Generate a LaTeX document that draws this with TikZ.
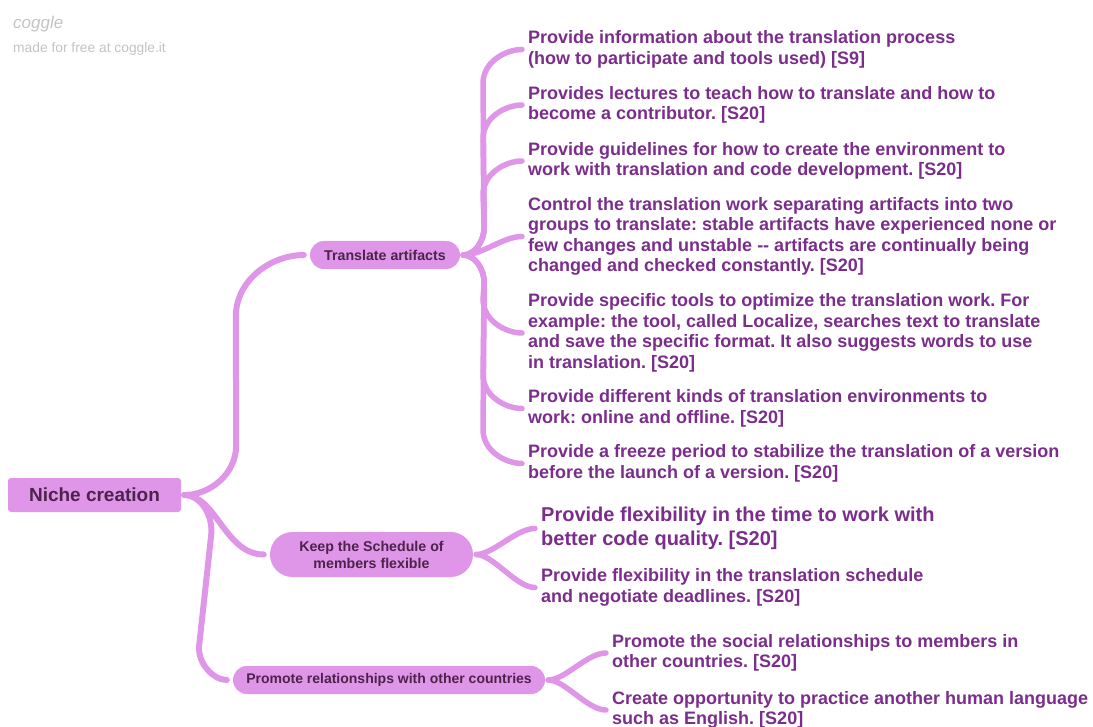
\documentclass[tikz,border=0pt]{standalone}
\usepackage{fontspec}
\setmainfont{Liberation Sans}
\usepackage{tikz}
\usetikzlibrary{positioning}
\definecolor{orchid}{RGB}{224,150,232}
\definecolor{leaftext}{RGB}{123,45,140}
\definecolor{nodetext}{RGB}{75,35,75}
\definecolor{logogray}{RGB}{195,195,195}
\tikzset{
  leaf/.style={font=\fontsize{18}{20.5}\selectfont\bfseries\frenchspacing, text=leaftext, align=left, inner sep=0pt, yshift=-2.5pt},
  pill/.style={fill=orchid, text=nodetext, font=\fontsize{14.2}{17}\selectfont\bfseries, align=center, inner sep=0pt},
  branch/.style={draw=orchid, line width=5.5pt, line cap=round, shorten <=3pt, shorten >=6pt}
}

\begin{document}
\begin{tikzpicture}
      \useasboundingbox (0,0) rectangle (1093pt,-727pt);
      \node[anchor=west, inner sep=0pt, text=logogray, font=\fontsize{17}{20}\selectfont\itshape] (Logo) at (13pt,-24pt) {coggle};
      \node[anchor=west, inner sep=0pt, text=logogray, font=\fontsize{13.8}{16}\selectfont] (Credit) at (13pt,-49pt) {made for free at coggle.it};

      \node[fill=orchid, text=nodetext, rounded corners=3pt, minimum width=173pt, minimum height=34pt, font=\fontsize{19}{22}\selectfont\bfseries] (Root) at (94.5pt,-495pt) {Niche creation};
      \node[pill, on grid, above right=240pt and 290.5pt of Root, minimum width=150pt, minimum height=28pt, rounded corners=13.9pt] (Translate) {Translate artifacts};
      \node[pill, on grid, below right=59.5pt and 277pt of Root, minimum width=203pt, minimum height=45pt, rounded corners=22.4pt] (Schedule) {Keep the Schedule of\\members flexible};
      \node[pill, on grid, below right=185pt and 294.5pt of Root, minimum width=312pt, minimum height=28pt, rounded corners=13.9pt, font=\fontsize{14}{17}\selectfont\bfseries] (Promote) {Promote relationships with other countries};

      \node[leaf, on grid, above right=208pt and 143pt of Translate, anchor=west] (T1) {Provide information about the translation process\\(how to participate and tools used) [S9]};
      \node[leaf, on grid, above right=152.5pt and 143pt of Translate, anchor=west] (T2) {Provides lectures to teach how to translate and how to\\become a contributor. [S20]};
      \node[leaf, on grid, above right=96.5pt and 143pt of Translate, anchor=west] (T3) {Provide guidelines for how to create the environment to\\work with translation and code development. [S20]};
      \node[leaf, on grid, above right=21pt and 143pt of Translate, anchor=west] (T4) {Control the translation work separating artifacts into two\\groups to translate: stable artifacts have experienced none or\\few changes and unstable -{}- artifacts are continually being\\changed and checked constantly. [S20]};
      \node[leaf, on grid, below right=75.5pt and 143pt of Translate, anchor=west] (T5) {Provide specific tools to optimize the translation work. For\\example: the tool, called Localize, searches text to translate\\and save the specific format. It also suggests words to use\\in translation. [S20]};
      \node[leaf, on grid, below right=151pt and 143pt of Translate, anchor=west] (T6) {Provide different kinds of translation environments to\\work: online and offline. [S20]};
      \node[leaf, on grid, below right=206pt and 143pt of Translate, anchor=west] (T7) {Provide a freeze period to stabilize the translation of a version\\before the launch of a version. [S20]};

      \node[leaf, on grid, above right=28.5pt and 169.5pt of Schedule, anchor=west, font=\fontsize{20}{24}\selectfont\bfseries\frenchspacing] (S1) {Provide flexibility in the time to work with\\better code quality. [S20]};
      \node[leaf, on grid, below right=30.5pt and 169.5pt of Schedule, anchor=west] (S2) {Provide flexibility in the translation schedule\\and negotiate deadlines. [S20]};

      \node[leaf, on grid, above right=29.5pt and 223pt of Promote, anchor=west] (P1) {Promote the social relationships to members in\\other countries. [S20]};
      \node[leaf, on grid, below right=27.5pt and 223pt of Promote, anchor=west] (P2) {Create opportunity to practice another human language\\such as English. [S20]};

      \draw[branch, line width=6pt] (Root.east) to[out=0,in=-90] ++(55pt,50pt) -- ([xshift=-74pt,yshift=-62pt]Translate.west) to[out=90,in=180] (Translate);
      \draw[branch, line width=6pt] (Root) to[out=0,in=180,out distance=35pt,in distance=45pt] (Schedule);
      \draw[branch, line width=6pt] (Root.east) to[out=0,in=84] ++(30pt,-40pt) -- ++(-12pt,-110pt) to[out=-96,in=180] (Promote);

      \draw[branch] (Translate.east) to[out=0,in=-90] ++(24pt,28pt) -- ([xshift=-45pt,yshift=-34pt]T1.west) to[out=90,in=180] (T1);
      \draw[branch] (Translate.east) to[out=0,in=-90] ++(24pt,28pt) -- ([xshift=-45pt,yshift=-34pt]T2.west) to[out=90,in=180] (T2);
      \draw[branch] (Translate.east) to[out=0,in=-90] ++(24pt,28pt) -- ([xshift=-45pt,yshift=-34pt]T3.west) to[out=90,in=180] (T3);
      \draw[branch] (Translate) to[out=0,in=180,out distance=22pt,in distance=25pt] (T4);
      \draw[branch] (Translate.east) to[out=0,in=90] ++(24pt,-28pt) -- ([xshift=-45pt,yshift=34pt]T5.west) to[out=-90,in=180] (T5);
      \draw[branch] (Translate.east) to[out=0,in=90] ++(24pt,-28pt) -- ([xshift=-45pt,yshift=34pt]T6.west) to[out=-90,in=180] (T6);
      \draw[branch] (Translate.east) to[out=0,in=90] ++(24pt,-28pt) -- ([xshift=-45pt,yshift=34pt]T7.west) to[out=-90,in=180] (T7);

      \draw[branch] (Schedule) to[out=0,in=180,out distance=20pt,in distance=25pt] (S1);
      \draw[branch] (Schedule) to[out=0,in=180,out distance=20pt,in distance=25pt] (S2);
      \draw[branch] (Promote) to[out=0,in=180,out distance=20pt,in distance=25pt] (P1);
      \draw[branch] (Promote) to[out=0,in=180,out distance=20pt,in distance=25pt] (P2);
    \end{tikzpicture}
\end{document}
